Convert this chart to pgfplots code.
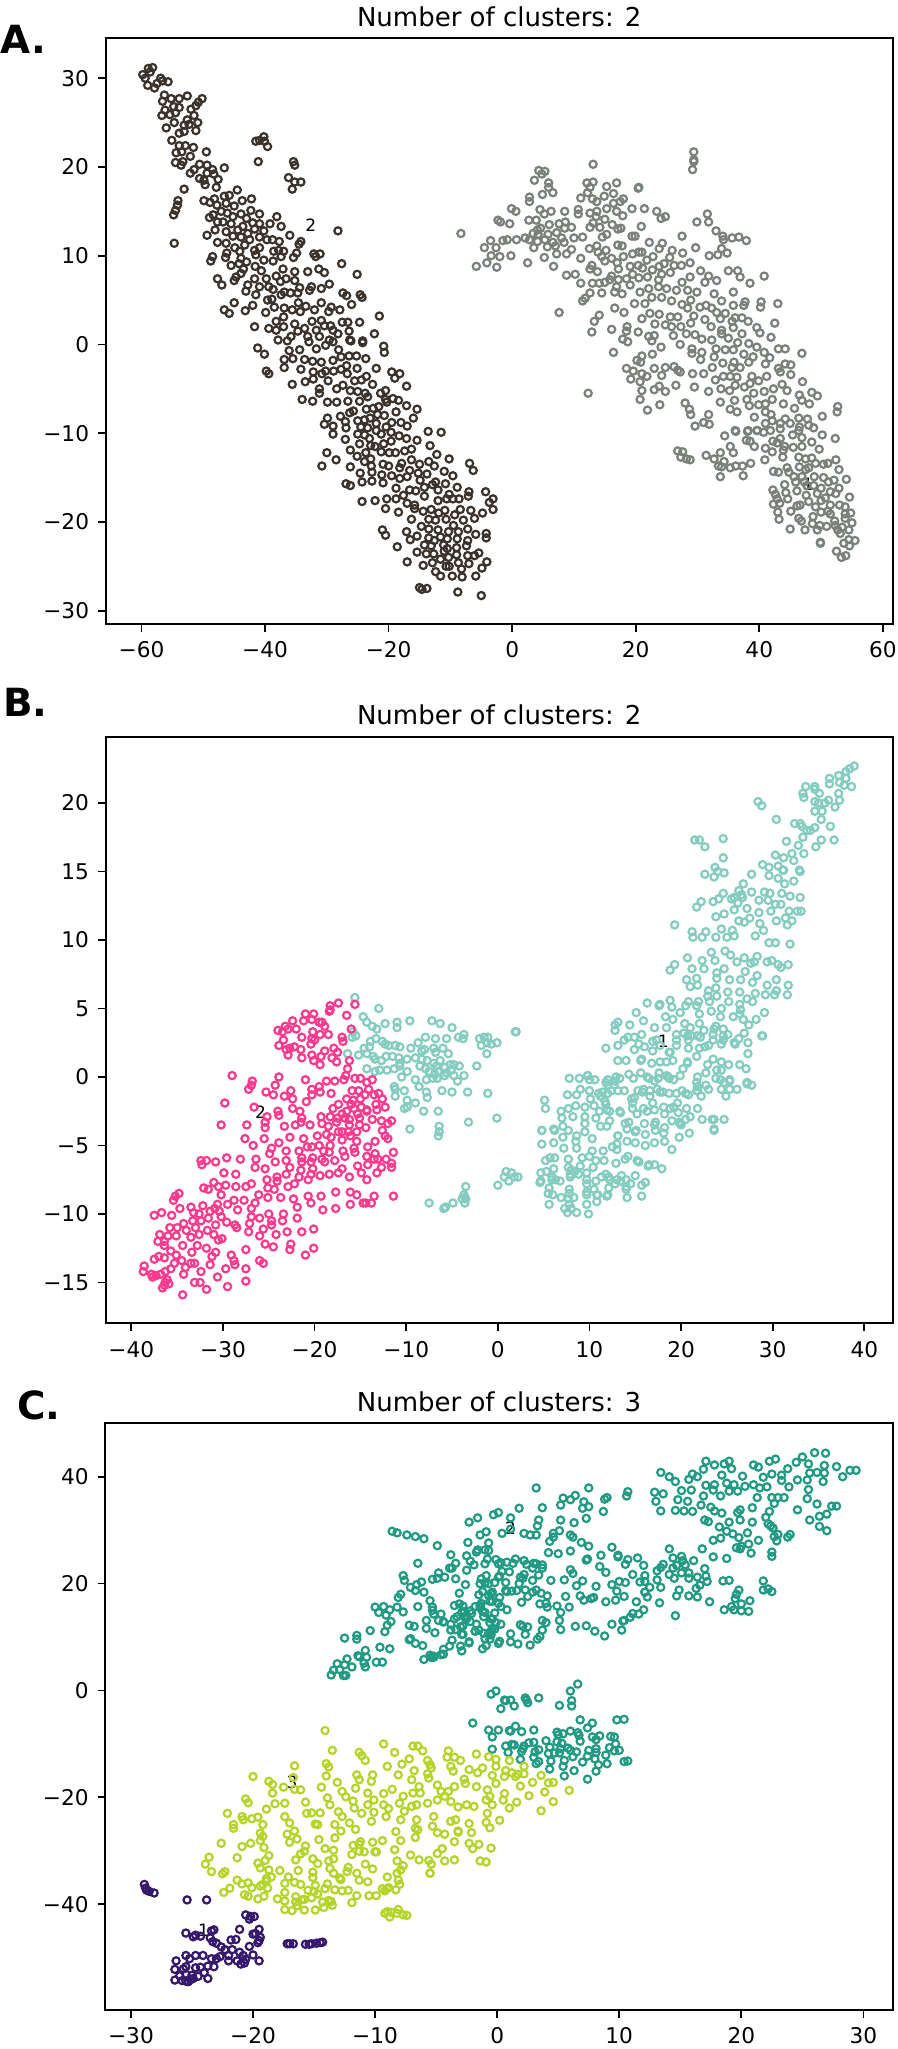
\documentclass[border=0pt]{standalone}
\usepackage{fontspec}
\setmainfont{DejaVu Sans}
\usepackage{pgfplots}
\pgfplotsset{compat=1.18}
\definecolor{aDark}{HTML}{3A322B}
\definecolor{aGrey}{HTML}{7A807A}
\definecolor{bPink}{HTML}{FB3A8E}
\definecolor{bTeal}{HTML}{84CCBF}
\definecolor{cTeal}{HTML}{219A83}
\definecolor{cLime}{HTML}{B4D42A}
\definecolor{cPurp}{HTML}{35186B}
\pgfplotsset{
  panel/.style={anchor=south west,scale only axis,width=393.5pt,
    tick align=outside,xtick pos=lower,ytick pos=left,
    major tick length=3.8pt,axis line style={line width=0.87pt},
    every tick/.append style={line width=0.87pt,black},
    tick label style={font=\fontsize{10.83}{13}\selectfont},
    xticklabel style={yshift=-1.5pt},yticklabel style={xshift=-1pt},
    title style={at={(0.5,1)},anchor=base,yshift=0pt,font=\fontsize{13}{16}\selectfont},
    clip=true},
  pts/.style={only marks,mark=o,mark size=1.8pt,mark options={line width=1.1pt,draw=#1,fill=none}},
}
\newcommand{\ann}[2]{\node[font=\fontsize{8.5}{10}\selectfont,inner sep=0pt] at (axis cs:#1) {#2};}
\begin{document}
\begin{tikzpicture}[x=1pt,y=1pt]
\path[use as bounding box] (0pt,0pt) rectangle (449pt,1024.5pt);
\node[anchor=base west,inner sep=0pt,font=\fontsize{19.4}{22}\bfseries\selectfont] at (0pt,997.5pt) {A.};
\node[anchor=base west,inner sep=0pt,font=\fontsize{19.4}{22}\bfseries\selectfont] at (1.5pt,666pt) {B.};
\node[anchor=base west,inner sep=0pt,font=\fontsize{19.4}{22}\bfseries\selectfont] at (8.5pt,314.5pt) {C.};
\begin{axis}[panel,at={(52.85pt,712.5pt)},height=292.85pt,xmin=-65.8,xmax=61.6,ymin=-31.5,ymax=34.5,
 xtick={-60,-40,-20,0,20,40,60},xticklabels={−60,−40,−20,0,20,40,60},
 ytick={-30,-20,-10,0,10,20,30},yticklabels={−30,−20,−10,0,10,20,30},
 title={Number of clusters: 2}]
\addplot[pts=aDark] coordinates {
(-59.8,30.4)(-58.9,31.1)(-58.2,31.2)(-58.6,30.7)(-59.4,30)(-59,29.2)(-57.9,28.9)(-57.5,29.4)(-56.9,30)(-55.7,29.6)(-56.6,29.7)
(-56.3,28.1)(-56.6,27.4)(-55.2,27.7)(-53.9,27.7)(-52.6,28)(-50.2,27.7)(-50.8,27.3)(-51.2,26.9)(-52,26.5)(-53.9,26.7)(-54.8,26.8)(-56.2,26.4)(-56.7,25.8)(-55.4,25.9)(-54.5,26.1)(-51.5,25.8)(-50.9,25)(-52.6,25.3)(-54.7,25)(-53.1,24.7)(-52.3,24.8)(-56,24.4)(-51.2,24.1)(-53.1,24)(-53.9,23.8)(-55.1,23)(-53.9,22.4)(-52.9,22.4)(-51.6,22.2)(-54.4,21.6)(-53.5,21.7)(-49.5,21.7)(-52.1,21.2)(-54.5,20.5)(-53.3,20.6)(-53.6,20.2)(-50.6,20.3)(-49.4,20.2)(-46.6,19.9)(-51.5,19.7)(-52.1,19.3)(-48.5,19.7)(-49.4,19.3)(-50.6,18.7)(-48.3,19.2)(-47.6,18.6)(-49.9,18.5)(-49.7,18)(-47.9,17.7)(-53.1,17.5)
(-40.2,23.4)(-41.5,22.9)(-40.9,23)(-40.1,22.9)(-39.6,22.3)(-41.1,20.6)(-35.4,20.6)(-35.2,20.2)(-36.2,18.8)(-35.2,18.3)(-34.2,18.3)(-35.6,17.5)
(-54.1,16.2)(-54.2,15.7)(-54.5,15.1)(-54.8,14.6)(-54.7,11.4)
(-44.5,17.4)(-42.2,16.4)(-43.7,16.2)(-45.8,16.8)(-46.6,16.7)(-48.2,16.4)(-49.9,16.2)(-48.9,16)(-47.8,15.7)(-46.3,15.9)(-45,15.6)(-47.1,15)(-42.3,15.1)(-40.9,14.7)(-43.9,14.7)(-48.4,14.6)(-49,14.3)(-46.1,14.8)(-45.2,14.4)(-43,14.2)(-38.1,14.4)(-47.7,13.8)(-46.8,13.8)(-45.5,13.6)(-42,13.7)(-40.9,13.6)(-39.2,13.6)(-37.4,13.3)(-43.6,13.3)(-41.7,13)(-48.1,12.9)(-46.3,12.7)(-44.4,12.9)(-42.8,12.5)(-40.2,12.8)(-28.2,12.8)(-49.4,12.3)(-45.2,12.2)(-43.9,12.1)(-40.9,12.1)(-36,12.3)(-47.7,11.5)(-46.3,11.4)(-42.5,11.8)(-39.7,11.8)(-38.8,11.8)(-37.7,11.6)(-34.2,11.6)(-34.5,11.3)(-43.3,11.2)(-44.9,10.9)(-40.9,10.9)(-41.7,10.6)(-38.6,10.5)(-37,10.5)(-37.8,10.6)(-41.5,10.1)(-44.1,10.5)(-46.2,10.3)(-32.1,10.2)(-31.1,10.2)(-34.9,10.3)(-48.5,9.9)(-46.4,9.8)(-37.4,9.9)(-35.4,9.8)(-31.8,9.9)(-48.8,9.4)(-43.9,9.7)(-40.2,9.5)(-38.7,9.4)(-43,9.3)(-27.6,9.1)(-44.2,9.1)(-45.5,8.9)(-41.6,8.8)(-37.1,8.5)(-43.5,8.5)(-31.3,8.5)(-40.6,8.3)(-35.2,8.2)(-33.1,8.2)(-30.4,8.1)(-43.9,8)(-25.1,7.9)(-38.2,7.7)(-47.7,7.4)(-41.7,7.4)(-39.8,7.4)(-44.7,7.6)(-36.6,7.4)(-45,7.2)(-35.2,7.2)(-37.5,7.1)(-47,6.7)(-42.8,6.7)(-40.9,6.5)(-39.4,6.5)(-29.6,6.8)(-34.4,6.4)(-32.5,6.5)(-43.1,6)(-38.7,6.2)(-30.9,6.3)(-36.9,5.9)(-35.9,5.8)(-34.7,5.8)(-32.8,6.1)(-27.4,5.8)(-41.5,5.6)(-37.4,5.6)(-26.8,5.5)(-24.6,5.6)(-24.3,5.3)(-39.6,5)(-38.9,5.1)(-30.9,4.7)(-45,4.7)(-34.6,4.7)(-26,4.5)(-42,4.4)(-38.5,4.2)(-33.4,4.3)(-29.3,4.2)(-46.6,3.9)(-43.2,3.8)(-36.9,4.1)(-35.6,3.9)(-34.3,3.7)(-32,3.9)(-29.7,3.7)(-27.9,3.9)(-45.8,3.5)(-39.9,3.6)(-21.5,3.2)(-37,3.1)(-30.9,2.7)(-32.4,2.6)(-27.5,2.5)(-26.6,2.5)(-24.7,2.5)(-38.2,2.6)(-35.2,2.3)(-29.4,2.1)(-30.4,2.1)(-37,2)(-33.6,1.8)(-41.7,2)(-39.4,1.8)(-38.2,1.6)(-31.7,1.6)(-34.7,1.5)(-29,1.6)(-26.4,1.5)(-22.3,1.2)(-33.1,.9)(-35.8,.9)(-31.2,.9)(-28.2,1.2)(-24.2,.4)(-37.9,.5)(-26.3,.5)(-29.6,.5)
(-36.4,.4)(-34.4,-.6)(-32.9,.3)(-31.7,-.5)(-36.1,-.7)(-30.2,-.1)(-29,.3)(-28.1,-.6)(-26.1,.4)(-24.2,.2)(-20.8,-.2)(-20.7,-.9)(-41.2,-.4)(-40.1,-1.1)(-36.9,-1.7)(-35.5,-1.6)(-33.6,-1.7)(-32.3,-1.9)(-30.9,-2)(-29,-1.8)(-27.7,-1.4)(-26.4,-1.3)(-25.2,-1.3)(-23.7,-1.6)(-36.9,-2.6)(-34.2,-2.8)(-39.8,-3)(-39.4,-3.3)(-32.2,-3.1)(-30.2,-3)(-28.9,-3)(-27.7,-2.8)(-26.8,-2.4)(-25.1,-2.7)(-22,-2.7)(-19.5,-3.1)(-18.2,-3.3)(-30.8,-3.3)(-26.7,-3.3)(-19,-3.8)(-23.6,-3.6)(-24.4,-4)(-25.5,-4.1)(-29.8,-4.1)(-32.2,-3.9)(-33.5,-4.2)(-35.6,-4.5)(-27.4,-4.6)(-22.6,-4.5)(-17.1,-4.7)(-28.4,-5)(-31.2,-5)(-31.2,-5.5)(-26.2,-5.2)(-25,-5.3)(-23.8,-5.5)(-20.5,-5.2)(-21.3,-5.5)(-23.4,-5.9)(-34,-6.2)(-32.3,-6.4)(-29.9,-6.5)(-28.4,-6.5)(-26.6,-6.4)(-24.7,-6.4)(-20.5,-6.2)(-19.3,-6.1)(-18.4,-6.3)(-20.3,-6.5)(-18.8,-7.6)(-17.1,-6.9)(-21.6,-7)(-22.5,-7.2)(-15.4,-7.3)(-23.6,-7.3)(-25.7,-7.5)(-26.3,-7.7)(-20.7,-8)(-21.8,-7.9)(-16,-8.3)(-27.8,-8.1)(-29.9,-8.3)(-23,-8.3)(-25,-8.6)(-27,-8.7)(-23.9,-8.5)(-18,-8.8)(-19.5,-8.8)(-22,-8.9)(-30.4,-9)(-29,-9.2)(-26.9,-9.4)(-24.5,-9.3)(-23.4,-9.4)(-20.4,-9.3)(-17,-9.2)(-22,-9.7)(-19.6,-9.9)(-29,-10.1)(-25,-10.1)(-23.9,-10.2)(-21.2,-10.1)(-13.6,-9.8)(-11.5,-9.9)(-23.1,-10.6)(-18.3,-10.3)(-17.1,-10.6)(-15.4,-10.8)(-27,-10.7)(-19.6,-10.9)(-24.7,-11.2)(-22.9,-11.4)(-20.8,-11.2)(-22.2,-11.5)(-13.3,-11.4)(-16.3,-11.8)(-26.2,-11.9)(-23.7,-12.2)(-21.2,-12.1)(-19.9,-12.2)(-18.9,-12.2)(-17.4,-12)(-30,-12.2)(-12.2,-12.4)(-25.1,-12.6)(-22.9,-12.9)(-10.2,-12.9)(-28.5,-13)(-16.3,-13)(-23.9,-13.2)(-13.5,-13.2)(-20.9,-13.5)(-15,-13.5)(-17.9,-13.4)(-6.9,-13.4)(-20,-13.7)(-12.6,-13.7)(-30.8,-13.7)(-26.2,-13.8)(-22.8,-13.7)(-18.2,-13.9)(-6.3,-14.2)(-16.6,-14.2)(-11,-14.3)(-22.7,-14.4)(-24.6,-14.5)(-13.8,-14.6)(-21.1,-14.7)(-19.5,-14.8)(-15.2,-14.5)(-9.6,-14.8)(-17,-14.9)(-18.2,-15.1)(-14.9,-15.3)(-24.3,-15.5)(-22.7,-15.4)(-20.9,-15.6)(-26.9,-15.7)(-26.2,-15.9)(-12.4,-15.5)(-10.8,-15.7)(-12.9,-15.8)(-18.8,-16.2)(-14.2,-16.1)(-8.9,-16.1)(-16.6,-16.4)(-12,-16.4)(-15.6,-16.5)(-4.3,-16.6)(-7,-16.6)(-10.2,-16.9)(-17.6,-17)(-14.2,-17.1)(-7.1,-17.1)(-18.8,-17.4)(-20.3,-17.4)(-9.6,-17.4)(-8.6,-17.4)(-3.1,-17.4)(-10.6,-17.4)(-12,-17.6)(-22.2,-17.6)(-24.3,-17.7)(-3.7,-17.8)(-17,-17.9)(-15.8,-18.1)(-20.5,-18.5)(-15.8,-18.5)(-3.1,-18.6)(-6.7,-18.7)(-13.1,-18.6)(-14.4,-18.8)(-10.9,-18.7)(-8.4,-18.6)(-18.4,-18.9)(-11.9,-19)(-4.8,-19)(-9.3,-19.2)(-6.1,-19.6)(-13.5,-19.7)(-12.4,-19.8)(-10.7,-19.7)(-16.3,-19.7)(-7.9,-19.8)(-9.5,-20.4)(-14.7,-20.5)(-12,-20.9)(-13.5,-20.8)(-7.2,-20.8)(-21,-20.9)(-17.1,-21.1)(-10.3,-21.1)(-8.7,-21.1)(-20.5,-21.5)(-15.4,-21.6)(-5.9,-21.4)(-4.2,-21.3)(-4.2,-21.8)(-11.6,-21.7)(-13.5,-21.8)(-8.9,-21.9)(-16.5,-22)(-7.2,-22.1)(-10.5,-21.9)(-12.6,-22.1)(-14.2,-22.6)(-7.4,-22.7)(-11.1,-22.6)(-13.1,-22.7)(-9,-22.9)(-18.6,-22.8)(-10.5,-23)(-11,-23.3)(-15.4,-23.4)(-12.7,-23.6)(-13.9,-23.6)(-9,-23.7)(-5.4,-23.5)(-7.2,-23.8)(-6.1,-23.8)(-10.3,-24)(-11.6,-24.2)(-4.1,-24.5)(-8.7,-24.6)(-7,-24.7)(-17,-24.5)(-12.9,-24.6)(-14.4,-24.9)(-10.7,-25)(-10.2,-25)(-8.2,-25.3)(-4.9,-25.2)(-12.4,-25.6)(-11.6,-26.1)(-9.7,-26.1)(-8.1,-26.2)(-5.9,-26.1)(-15,-27.4)(-14.6,-27.6)(-13.8,-27.5)(-8.8,-27.9)(-5,-28.3)
};
\addplot[pts=aGrey] coordinates {
(-8.3,12.5)(-3.5,11.7)(-4.5,10.9)(-2.6,10.9)(-3.4,10)(-2,9.9)(-4.1,9.2)(-5.8,8.8)(-2.5,8.7)(-.2,10)(2.5,9.2)(5.2,9.8)(6.7,8.8)(3.5,10.9)(5.7,11)(7.2,10.2)(8.8,10.2)(9.6,10.7)(8.4,11.5)(7,11.1)(-1.5,11.7)(-.8,11.8)(.7,11.8)(2.1,12)(2.8,11.8)(4.1,11.6)(5.3,11.8)(6.6,11.5)(8,12)(10,12)(11.4,12.1)(9.6,13.2)(8.5,13.1)(8.6,13.8)(7.6,13.6)(6,13.5)(7.2,12.6)(5.8,12.4)(4.2,12.4)(3.4,12.5)(4.1,12.9)(4.6,13.1)(2.7,14)(3.9,14)(-2.3,14)(-1.9,13.8)(-.4,13.6)(-.1,15.3)(.6,15)(4.5,15.2)(5.2,14.7)(6.3,15)(8.5,15)(10.7,15.2)(10.7,14.7)(12.6,14.8)(13.7,15)(13.6,14.4)(15,14.1)(13.1,13.7)(12.6,13.2)(14.2,13.2)(16.2,13.5)(17.1,13)(17.6,13.1)(20.9,13.3)(19.4,12.2)(19.9,12.2)(15.3,12.4)(14.6,12.1)(12.5,10.8)(13.7,11.1)(15.2,10.6)(13.9,10.4)(17.1,11.2)(17.8,11.1)(14.5,9.9)(15,9.4)(11.1,9.7)(16.1,9.7)(18,9.9)(19.5,10.2)(20.5,10.4)(21,10.4)(22.2,11.5)(24.3,11.4)(23.8,10.8)(25.9,10.6)(25.5,9.8)(22.8,9.9)(21.8,9.5)(27.5,12.2)(27.6,10.3)(29.7,10.9)(28.8,9.2)(27.4,8.9)(26.2,8.9)(24.6,9.1)(23.8,8.8)(22.7,8.4)(21.1,8.6)(20.4,8.9)(19.1,8.8)(17.2,8.5)(17,9.2)(12.9,8.9)(12.6,8.5)(13.8,8.2)(8.8,7.8)(10.2,7.9)(11.1,6.9)(13,6.9)(14.1,6.9)(15,7)(16.1,7.7)(17.2,7.3)(15.8,7.3)(18.5,7.4)(19.5,7.9)(20.5,7.5)(21.9,7.6)(23.7,7.3)(24.2,7.9)(25.6,8.1)(27.5,7)(28.8,7.6)(30.5,8.3)(31.8,7.7)(31.2,7)(33.1,7.2)(35,8.3)(36.5,8.3)(36.9,7.6)(38.5,6.9)(40.8,7.7)(19.1,6.7)(16.9,6.5)(20.7,5.9)(22.1,6.3)(23.7,6.5)(25,6.3)(26.6,6.1)(28.4,6.1)(29.9,5.9)(32.7,5.7)(35.8,5.9)(12.6,5.8)(11.8,5.2)(11.4,4.9)(14.5,5.8)(16.6,5.9)(17.8,5.7)(16.6,4.1)(18.1,3.6)(19.8,4.6)(21.5,4.6)(22.6,5.3)(24.2,5.3)(25.8,4.9)(27.5,4.5)(28.9,5)(33.9,4.9)(37.7,4.8)(40.3,4.8)(43,4.6)(35.8,4.4)(30.4,4.2)(31.4,4.4)(32.3,4.1)(40.2,4.2)(37.5,4.4)(7.6,3.6)(14.1,3.3)(13.3,2.6)(12.9,1.4)(16.1,1.7)(18.6,2)(18.5,1.5)(20.4,1.4)(22.3,3.5)(23.8,3.4)(25.6,3.1)(26.8,3.1)(28.4,4.1)(29.4,3.2)(33.1,3.6)(34.5,3.5)(31.2,2.8)(33.7,2.9)(36.1,3)(37.2,3)(38.2,2.6)(42.5,2.4)(21,2.9)(23.1,2.3)(24.8,2.2)(25.8,2)(27.3,2)(28.9,2.4)(32.2,2)(35.6,2.6)(33.9,1.6)(35.8,1.9)(39.6,1.9)(40.1,1.3)(37.2,1.2)(22.1,.9)(23,1)(22.6,.4)(17.9,.6)(18.7,.3)(26.1,1)(28.2,1.2)(29.6,1.1)(30.7,.6)(32.3,.5)(33.9,1.2)(35,.7)(36.5,.2)(38.3,.1)(41.9,.8)(27.2,0)(24.1,-.3)(29.1,-.5)(30.7,-.9)(33,-.5)(34.5,-.6)(35.8,-.6)(37.5,-1.1)(39.6,-.3)(40.8,-.9)(43.1,-.5)(44.2,-.5)(46.9,-1)(16.4,-.9)(21,-1.3)(22.7,-1.1)(20.2,-1.8)(29.1,-1)(32.7,-1.4)(39,-1.4)(41.7,-1.5)(20.8,-2)(30.5,-1.7)(34.1,-2.1)(35.9,-2)(41,-2.2)(44.2,-2.2)(45.1,-2.3)(18.5,-2.7)(19.6,-3)(23,-2.7)(24.8,-2.6)(26.2,-2.5)(26.8,-2.9)(27.2,-3.1)(32.4,-2.6)(35.6,-2.6)(36.9,-2.6)(43.1,-2.7)(38.3,-2)(21,-3.3)(21.8,-3.6)(24.2,-3.5)(29.2,-3.3)(31,-3.3)(34.2,-3.6)(35.3,-3.6)(36.4,-3.7)(38.8,-3.6)(39.9,-4.1)(41.2,-3.6)(43.4,-3.1)(45.1,-3.4)(19.2,-3.9)(20.7,-4.2)(32.9,-4)(36.1,-4.6)(47,-4.2)(38.5,-4.4)(12.3,-5.5)(21,-5.2)(23,-5.1)(23.8,-4.7)(24.8,-5.3)(26.5,-4.6)(29.5,-4.8)(31.8,-5.3)(33.8,-5)(35.2,-5.2)(37.6,-4.8)(39.1,-5.5)(40.8,-5.3)(42.3,-5)(43.7,-4.5)(44.5,-5.2)(46.5,-5.7)(48.5,-5.4)(49.4,-5.8)(20.7,-6.2)(23.9,-6.8)(28,-6.6)(33.7,-6.5)(36,-6.3)(38,-6.2)(42.1,-6.2)(46.9,-6.3)(48.1,-6.7)(21.9,-7.4)(28.7,-7.3)(28.9,-7.9)(35.3,-7.3)(36.4,-7.6)(38.4,-6.9)(39.9,-6.8)(41,-6.7)(43.9,-6.7)(45.7,-7.2)(52.7,-7)(52.6,-7.6)(31.8,-7.9)(39.2,-8.2)(41,-7.6)(41.9,-7.9)(50.2,-8.1)(29.6,-9.2)(31,-8.8)(31.9,-9)(36.1,-9.7)(38.2,-9.7)(39.6,-9.7)(41,-8.9)(42.1,-8.6)(43.4,-8.9)(44.2,-8.4)(45,-8.9)(46.4,-8.3)(47.8,-8.4)(46.5,-9.3)(48,-9.1)(48.8,-9.4)
(29.4,21.7)(29.4,20.6)(29.4,20.8)(29.2,19.7)(13.1,20.3)(4.3,19.6)(5.3,19.5)(4.8,19.2)(3.6,18.5)(5.9,18.2)(5.9,17.7)(6.6,17.1)(4.9,16.9)(2.8,16.6)(2.8,16.1)(12.1,18.2)(13.1,18.3)(15.3,17.8)(16.9,18.2)(20.4,17.6)(20.5,17.7)(12.6,17.7)(12.2,17.1)(11.1,16.5)(13,16.4)(13.7,16.1)(14.9,16.7)(16.4,17)(18,16.4)(17.5,16.1)(16.4,15.9)(15.3,15.3)(16.9,15)(17.9,14.5)(19.4,15.3)(21.4,15.3)(23.4,15)(24.8,14.4)(24.1,14.2)(31.6,14.7)(31.8,13.8)(29.9,13.8)(33,12.8)(34.1,12.2)(34.2,11.8)(35.6,12)(36.7,12.1)(37.9,11.7)(33.9,10.8)(33.3,10.1)(31.9,10)(34.8,10.3)
(34.4,-10.3)(36.2,-9.8)(38.1,-9.8)(39.7,-9.7)(40.7,-9.9)(41.8,-9.7)(43.4,-9.5)(45.4,-10.2)(46.4,-9.7)(46.9,-10.5)(48.5,-11)(50.2,-10.2)(52.3,-10.6)(37.9,-10.8)(38.5,-10.9)(39.2,-11.5)(42.2,-10.9)(42.9,-11.1)(43.4,-10.6)(44.1,-11.5)(45.5,-11.6)(46.9,-11.5)(49.7,-11.8)(35.3,-11.5)(35.8,-12.2)(41,-11.7)(42.1,-12.1)(43.8,-12.7)(43.9,-11.9)(26.8,-12)(27.6,-12.1)(27.3,-12.7)(28.2,-12.9)(28.8,-13)(31.4,-12.5)(32.7,-12.9)(33.7,-12.2)(34.3,-13.2)(33.4,-13.7)(33.9,-13.8)(35.3,-13.9)(36.2,-13.7)(37.3,-13.7)(38.6,-13.4)(40.9,-13)(46.4,-12.7)(47.5,-12.9)(48.5,-12.8)(49.1,-13.4)(50.4,-13.5)(51.1,-13.4)(52.4,-13)(52.9,-14.1)(42.3,-14.3)(43.1,-14.4)(44.5,-13.9)(44.8,-14.4)(45.6,-14.9)(46.5,-13.8)(47.5,-14.1)(48,-13.9)(33.7,-14.9)(37.4,-14.8)(46.9,-14.9)(48.9,-14.9)(50.4,-15)(52.1,-15.3)(51.2,-15.5)(54.1,-15.2)(44.1,-15.8)(45.9,-15.5)(47.3,-15.5)(48.8,-15.9)(42.2,-16.4)(44.3,-16.7)(46.1,-16.5)(47.6,-17)(50,-16.2)(51.5,-16.6)(52.4,-16.8)(52.9,-16.2)(42.6,-16.9)(42.9,-17.4)(44.6,-17.4)(49.4,-16.8)(50.7,-17.3)(54.6,-17.2)(42.3,-18)(43.3,-17.9)(48,-17.7)(49.1,-18.3)(50,-17.6)(51.5,-18.1)(53,-18.1)(53.9,-18.3)(46.1,-18.2)(46.6,-18.1)(43,-18.9)(45.1,-18.8)(50,-18.9)(51.1,-18.8)(51.5,-19.1)(53.9,-19.1)(54.8,-19)(53.9,-19.6)(43.2,-19.7)(46.4,-19.6)(46.8,-19.9)(48.7,-19.4)(52.2,-19.9)(52.3,-20.4)(55,-20.1)(45,-20.8)(47.4,-20.9)(49.4,-20.9)(48.6,-20.2)(49.8,-20.4)(50.9,-20.5)(52.7,-20.9)(53.4,-20.6)(54.5,-20.9)(53.1,-21.3)(49.9,-22.3)(49.9,-22.4)(54.5,-22)(55.5,-22.1)(53.7,-22.4)(54.6,-22.7)(52.5,-23.3)(54,-23.8)(53.3,-24)(47.7,-15.9)
};
\ann{-32.6,13.4}{2}
\ann{47.9,-15.8}{1}
\end{axis}
\begin{axis}[panel,at={(52.85pt,362.85pt)},height=293.3pt,xmin=-42.8,xmax=43.1,ymin=-17.98,ymax=24.84,
 xtick={-40,-30,-20,-10,0,10,20,30,40},xticklabels={−40,−30,−20,−10,0,10,20,30,40},
 ytick={-15,-10,-5,0,5,10,15,20,25},yticklabels={−15,−10,−5,0,5,10,15,20,25},
 title={Number of clusters: 2}]
\addplot[pts=bTeal] coordinates {
(-15.6,5.8)(-13,5)(-14.7,4.4)(-14.3,4)(-13.7,3.7)(-13.2,3.5)(-12.3,3.9)(-11,4)(-11,3.6)(-9.6,4.1)(-7.2,4.1)(-6.3,3.9)(-5,3.6)(-4.3,2.9)(-5.6,2.8)(-7.9,2.9)(-8.7,2.5)(-6.8,2.8)(-3.8,2.8)(-3.7,3.1)(-2,2.8)(-1.5,2.9)(-1.2,2.5)(-1.8,2.3)(-1.1,2.9)(-0.7,2.4)(-0.1,2.5)(-1.2,1.7)(2,3.3)(1.9,3.3)
(-15.8,3.3)(-15.5,3)(-15.9,2.9)(-16.4,1.7)(-15.2,1.6)(-14.6,2.1)(-14,2.2)(-13.3,2.8)(-13.9,2.6)(-12.6,2.6)(-12.3,2.4)(-11.9,2.3)(-11.2,2.3)(-10.7,2.2)(-9.5,2.1)(-8.3,1.9)(-8,2)(-7,2.1)(-6.8,1.8)(-6,2.1)(-5.4,1.7)(-14.3,1.7)(-13.6,1.5)(-13.4,1.3)(-12.7,1.2)(-12.2,1.5)(-11.5,1.5)(-10.8,1.4)(-10.7,1)(-9.9,1.3)(-9,1.4)(-8.3,1.3)(-7.7,1.2)(-7,1)(-6.3,1.2)(-5.2,0.9)(-4.8,0.9)(-4.2,0.8)(-2.3,0.8)(-14.3,0.6)(-13.4,0.4)(-12.9,0.5)(-12.1,0.5)(-11.3,0.6)(-10.7,0.8)(-9.9,0.4)(-8.5,0.8)(-7.9,0.6)(-7.5,0.4)(-6.7,0.8)(-6.5,0.4)(-5.8,0.7)(-5.6,0.3)(-5.1,0.5)(-3.7,0.1)(-10.5,0)(-9,-0.2)(-7.8,-0.2)(-7.1,-0.1)(-6.6,-0.1)(-6.9,0.2)(-5.8,0.1)(-4.8,0.1)(-4.4,-0.3)
(-11.3,-0.7)(-11.2,-0.9)(-10.2,-1)(-8.6,-0.7)(-7.8,-1.1)(-6.1,-1)(-5,-1.1)(-3.3,-1.1)(-1.1,-1.2)(-11.2,-1.4)(-9.9,-1.7)(-7.7,-1.5)(-3.2,-3.3)(-9.9,-2.2)(-9,-1.9)(-10.2,-2.3)(-8.1,-2.5)(-6.5,-2.5)
(-9.6,-3.8)(-6.4,-3.6)(-6.4,-4)(-6.5,-4.3)
(-7.5,-9.2)(-5.7,-9.5)(-5.9,-9.6)(-4.9,-9.2)(-3.6,-8.8)(-3.6,-9.2)(-3.5,-8.9)(-3.7,-8.6)(-3.9,-8.9)(-3.5,-8)(0.7,-7.3)(0.9,-6.9)(1.2,-7.6)(1.5,-7)(0,-7.9)(1.8,-7.3)(2.2,-7.3)(-0.1,-3)
(38.9,22.7)(38.4,22.5)(38,22.3)(37.2,22)(36.2,21.8)(38,21.8)(37.3,21.5)(36.2,21.4)(37.8,21.3)(38.6,21.2)(33.6,21.2)(34.6,21.2)(34.6,21)(35.1,20.7)(33.3,20.7)(33.4,20.4)(37.2,20.7)(37.3,20.2)(36.1,20.2)(35.7,20)(34.6,20.1)(35,20)(36.8,19.7)(35.4,19.4)(34.6,19.4)(35.3,18.8)(36.3,18.3)(28.4,20.1)(28.8,19.8)(30.4,18.8)(32.4,18.5)(33,18.5)(33.2,18.3)(33.7,18)(34.1,18)(34.6,18.2)(33.3,17.5)(35.3,17.3)(36.7,17.3)(31.5,17.2)(32.8,16.9)(34.7,16.8)(32.1,16.3)(33.4,16.3)(30.3,16.2)(31.2,16)(32.3,15.8)(28.9,15.5)(29.6,15.3)(30.6,15.4)(31.1,15.1)(31.2,15.1)(33,15)(32.9,15.1)(27.7,14.8)(29.6,14.7)(30.6,14.5)(31.3,14.1)(32.3,14.3)(26.8,14.1)(26.3,13.6)(27.7,13.5)(29.1,13.5)(29.7,13.4)(31,13.4)(31.9,13.2)(33,13.1)(30.9,12.6)(32.7,12.1)(33.1,12.1)
(21.5,17.3)(22,17.3)(22.6,16.8)(24.6,17.4)(24.6,16)(23.7,15.3)(24,15)(24.7,14.9)(22.6,14.8)(23.6,14.6)(26.6,13.3)(24.6,13.4)(25.8,13.1)(26.7,13.1)(22.2,12.8)(21.7,12.4)(23.5,12.8)(24.1,13)(25.5,13)(26.2,12.7)(28.5,12.9)(29.5,12.9)(30.3,12.6)(31.8,12.1)(31.4,11.6)(29.8,12.1)(28.5,12)(27.2,12.3)(25.8,12.2)(24.7,11.9)(23.8,11.7)(27.5,11.6)(26.9,11.3)(26.3,11.4)(28.6,11.2)(32.1,11.4)(31.6,11.1)(30.4,11.4)(29,10.7)(25.6,10.7)(24.4,10.8)(22.7,10.6)(21.2,10.6)(19.3,11.1)(21.3,10.2)(22.3,10.2)(23.8,10.2)(25,10.2)(25.8,10.3)(28.1,10.3)(30.3,9.8)(29.6,9.8)(31.9,9.7)(23.3,9.1)(24.8,9.2)(25.4,8.9)(26.9,8.7)(28.3,8.8)(29.9,8.5)(31.7,8.2)(30.9,8)(19.3,8.2)(20.7,8.7)(22.3,8.5)(23.7,8.5)(26.1,8.4)(27.6,8.3)(28,8.4)(29.4,8.4)(30.6,8.2)(18.8,7.8)(21.2,7.9)(22.5,7.9)(23.9,7.6)(24.7,7.9)(27,7.7)(28.3,7.4)(30.4,7.1)
(21.7,7.2)(20.6,7.1)(23.9,7.2)(25.3,7.1)(26.5,7.1)(27.8,6.9)(29.4,6.7)(31.7,6.7)(30.4,6.3)(31.6,6)(21,6.6)(21.8,6.7)(23,6.3)(23.8,6.5)(25.1,6.2)(26.4,6.2)(28.1,6.1)(29.2,6)(30.2,6)(27.2,5.7)(27.8,5.5)(20.8,5.5)(21.9,5.5)(22.9,5.9)(23.9,5.9)(25.2,5.5)(26.4,5.3)(17.7,5.3)(19,5.1)(16.3,5.4)(17.6,5.2)(18.8,5.6)(20.5,5.2)(21.7,5.2)(23.1,5.5)(24.4,5)(26.4,4.6)(26.5,4.9)(29.1,4.7)(15.1,4.7)(19.9,4.7)(22,4.6)(23.3,4.8)(24.3,4.4)(25.7,4.4)(26.8,4.2)(28.2,4.2)(18.3,4.4)(15.9,4.1)(19.1,4.2)(20.4,3.9)(21,3.6)(22,3.9)(23.8,3.7)(24.6,3.5)(27.4,3.8)(28.8,3)(12.8,3.8)(12.8,3.4)(17.1,3.6)(18.4,3.6)(13.1,4)(14.4,3.8)(20.3,3.2)(21.1,3)(22.5,3.4)(23.6,3.5)(25.1,3.1)(26.9,3.2)(28.9,3)(14.9,2.9)(15.7,3.1)(17.3,2.7)(19.5,3.1)(20.7,3)(21.8,3)(23.5,3.1)(24.6,3)(26.3,2.8)(13.8,2.7)(13.1,2.3)(14.2,2.9)(15.4,2.4)(19.5,2.7)(20.8,2.7)(22.1,2.9)(23.5,2.7)(24.6,2.7)(25.9,2.4)(27.3,2.5)
(11.8,2.1)(14.9,2)(16,2.2)(16.9,2.6)(17.7,2.3)(18.8,1.8)(19.5,2.3)(20.8,2.1)(22,2.1)(22.6,2.2)(23,2.3)(24.4,2.4)(25.8,2.5)(27.3,1.7)(16.9,1.9)(18.7,1.8)(15.7,1.3)(17.7,1.1)(19.1,1.2)(20.7,1.1)(21.7,1.5)(23.5,1.3)(24.4,1.1)(25.2,0.9)(26.4,0.9)(27.1,0.6)(13.1,1.2)(14,1.2)(15.6,1.2)(16.8,1)(18.4,1.1)(20.2,0.6)(20.7,1)(22.9,0.9)(23.9,0.5)(22.7,0.3)(24.4,0.5)(15.6,0.3)(17.6,0.3)(19.9,0.1)(18.7,-0.1)(21.7,-0.4)(22.7,-0.6)(24.3,-0.2)(25.3,-0.3)(13.3,-0.1)(14.3,0.2)(12.8,-0.3)(16.5,-0.1)(17.5,-0.1)(18.6,0)(21.8,0)(23.8,-0.1)(24.7,-0.4)(25.3,-0.2)(27.2,-0.4)(27.7,-0.6)(9.8,0.1)(11.8,-0.4)(12.9,0)(14.8,-0.1)(16.3,0)(17.1,-0.3)(18.4,0.1)(19.2,-0.2)(9.8,0.1)(12,-0.2)(12.4,-1)(15.3,-1)(15.9,-0.9)(17.4,-0.9)(18.7,-1.2)(20.1,-1)(21.7,-1)(23,-0.9)(24.4,-0.9)(24.9,-1.4)
(7.8,-0.1)(8.9,-0.1)(10,-0.2)(10.6,-0.2)(11.4,-1.1)(12,-0.6)(12.7,-0.6)(13.1,-1)(15.8,-1.1)(16.6,-1)(17.7,-1.1)(18,-1.1)(19.5,-1.2)(20.5,-1.2)(21.8,-0.7)(25.3,-0.9)(26.1,-0.9)(27.2,-0.5)(7.6,-1.3)(8.6,-1.3)(10,-1)(11,-1.2)(12,-1.2)(13.8,-1)(14.9,-1.5)(19.6,-1.9)(20.6,-2.3)(21.8,-2.3)(23.4,-3.1)(23.6,-3.1)(24.7,-3.1)(22.2,-1.4)(21.8,-1)(20.8,-1.3)
(11.7,-1.8)(16.6,-1.4)(14.6,-1.6)(14.7,-2.3)(15.9,-2.3)(13.4,-2.6)(11.9,-2.4)(17.1,-2.4)(18.1,-2.2)(19.2,-2.2)(9,-0.9)(10.1,-1.6)(11.2,-1.4)(5.1,-1.7)(5.2,-2.3)(6.9,-2.5)(7.7,-2.3)(8.5,-2.1)(9.5,-2.2)(10.5,-2.1)(11.8,-2)(14.7,-1.9)(16.9,-1.9)(18.8,-2.3)(19.7,-2.6)(20.5,-3.1)(21,-2.9)(22.3,-3.1)(23.6,-3.8)(23.6,-3.9)
(7,-3)(8.2,-2.9)(9.5,-2.9)(11.1,-2.5)(12.2,-2.5)(13.3,-2.5)(14.3,-3.3)(15.2,-2.7)(16.3,-2.5)(17.2,-3.3)(18.2,-2.7)(19,-3.2)(20,-3.5)(4.8,-3.9)(6.2,-3.9)(7.7,-3.9)(9.5,-3.4)(10.7,-3)(11.9,-3.6)(13.1,-4.3)(13.9,-3.4)(15.1,-3.9)(16,-3.4)(17.1,-3.5)(18.2,-3.7)(19.8,-3.3)
(4.8,-3.9)(6.1,-3.8)(7.1,-3.6)(8.5,-4.7)(9.5,-4)(11.2,-3.6)(12.2,-3.2)(13.1,-4.3)(14.1,-3.8)(15,-4)(16.1,-4.2)(17.2,-3.9)(18.1,-4.1)(19.9,-3.4)(4.8,-4.9)(6.1,-4.8)(7.1,-4.4)(8.6,-4.3)(10.3,-4.5)(11.5,-5.4)(12.5,-5.1)(13,-4.9)(14.1,-4.7)(15,-4.8)(16.1,-5)(17.1,-4.8)(18.2,-4.7)(19.8,-4.4)(20.9,-4.1)(19,-5.3)
(5.2,-6.1)(6.2,-5.9)(7.2,-5.2)(8.6,-5.2)(10.3,-5.4)(11.6,-6.1)(13,-5.3)(13.9,-6)(15.2,-6.1)(16.4,-6.5)(17.1,-6.4)(17.9,-6.7)(5.7,-5.9)(7.7,-6)(9.2,-5.9)(10,-5.8)(10.7,-6.1)(12.9,-6.3)(14.2,-5.8)(15.4,-6.2)(4.7,-7)(5.3,-6.9)(6.1,-6.7)(7.7,-6.6)(9,-6.5)(8,-6.8)(10.4,-6.6)(11.3,-7.3)(12.1,-7.3)(13.4,-7.6)(13.5,-7.2)(4.6,-7.7)(5.9,-7.5)(6.8,-7.6)(7.9,-7.1)(8.8,-7.1)(9.7,-7.5)(10.7,-7.6)(12.8,-7.8)(14.5,-7.8)(16.1,-7.7)(14,-7.5)(13,-7.5)
(4.7,-7.6)(5.9,-7.3)(6.3,-7.5)(7.9,-7.3)(8.4,-6.9)(9.7,-7)(11.8,-7.1)(12.2,-7.5)(6,-8.6)(7.8,-8.2)(9.7,-7.8)(10.5,-8.2)(5.5,-8.5)(7.8,-8.5)(9.7,-8.6)(10.8,-8.6)(14,-8)(15.7,-7.9)(12.1,-8.1)(11.9,-8.7)(16.5,-6.4)(15,-7.2)
(5.6,-8.1)(6.9,-8.8)(7.7,-8.9)(8.3,-8.8)(9.7,-8.4)(10.9,-8.6)(12,-8.6)(14.1,-8.8)(15.7,-8.7)(5.6,-9.3)(7.8,-9.3)(9.7,-9.3)(10.8,-9.1)(14,-8.2)(7.3,-9.6)(7.6,-9.9)(8,-9.6)(8.6,-9.9)(9.9,-10.0)
};
\addplot[pts=bPink] coordinates {
(-15.6,5.3)(-17.4,5.4)(-18.3,5.2)(-18.3,4.9)(-18.4,4.8)(-16.5,4.5)(-21,4.6)(-20.1,4.6)(-20.3,4.2)(-22.4,4.1)(-21.2,4.1)(-19.5,4)(-19.2,4)(-18.9,3.7)(-16,3.5)(-23.2,3.7)(-24,3.4)(-23.5,3.3)(-22.9,3.5)(-22,3.5)(-20.2,3.3)(-19.4,3.1)(-18.5,3.1)(-20.3,2.8)(-20,2.7)(-21.4,2.9)(-23.4,2.7)(-23.9,2.3)(-23.1,2)(-22.7,2.1)(-22.2,2.2)(-22.9,1.6)(-20.3,1.6)(-21.5,2)(-20.4,2.4)(-16.9,2.6)(-17,2.9)(-17.9,2.1)(-19.3,1.5)(-18.9,1.9)(-17.5,1.8)(-18.1,1.4)(-21.4,1.4)(-20.1,1.2)(-19.4,0.9)(-16.2,1.2)(-17.6,1.1)(-16.4,0.6)
(-29,0.1)(-26.8,-0.3)(-26.9,-0.6)(-27.2,-0.9)(-23.9,0)(-24.3,-0.6)(-24.5,-1.3)(-25.3,-1.1)(-22.6,-1)(-23.3,-1.4)(-22.4,-1.6)(-20.3,-1.3)(-20.9,-1.8)(-21,-0.2)(-19.5,-0.7)(-18.7,-0.3)(-16.8,-0.2)(-16.6,0.1)(-17.8,-0.3)(-18.2,-1.2)(-19.4,-1.1)(-20.3,-0.9)(-15.6,-0.1)(-15,-0.1)(-14.3,-0.4)(-13.7,-0.2)(-14.1,-0.9)(-15.2,-1)(-15.9,-1)(-16.5,-1.6)(-17.4,-2)(-18,-2.3)(-16.5,-2.5)(-16,-2)(-15.8,-1.7)(-15,-1.6)(-14.5,-1.3)(-13.5,-1.3)(-13,-1.2)(-12.6,-1.6)(-13.3,-2)(-14.3,-2.4)(-14.9,-2.2)(-15.7,-2.3)(-16.7,-3)(-17,-2.7)
(-29.8,-1.9)(-26.6,-2.2)(-24,-2.5)(-23.9,-2.8)(-25.2,-2.9)(-22.4,-2.3)(-21.6,-2.5)(-21.4,-3)(-19.3,-2.9)(-18.3,-2.9)(-17.5,-3)(-16.2,-3.1)(-15.3,-2.7)(-14.3,-2.5)(-13.2,-2.4)(-12.3,-2.2)(-12.7,-3.2)(-13.7,-3.1)(-15.1,-3)(-16.2,-3.5)(-17.6,-3.3)(-18.5,-3.6)(-19.2,-3.4)(-20.5,-3.5)(-22.1,-3.5)(-23.3,-3.6)(-25.4,-3.3)(-27.4,-3.5)(-30.2,-3.5)(-25.4,-3.7)(-21.5,-3.3)(-16.3,-4)(-15.1,-3.5)(-14.4,-3.7)(-12.6,-3.9)(-12,-3.4)(-11.6,-3.2)(-15.4,-4)(-17.4,-4)(-18.7,-4.2)(-19.7,-4.3)(-21.2,-4.5)(-22.7,-4.4)(-23.9,-4.8)(-27.6,-4.5)(-26.7,-5)(-25.5,-4.5)(-24.7,-5.2)(-20.8,-5.1)(-20.3,-5.1)(-19.5,-5)(-18.2,-4.4)(-17,-4.6)(-16.1,-4.3)(-15.4,-4.7)(-13.4,-4.7)(-12,-4.5)(-12.3,-4.3)(-14.2,-5.1)(-15.7,-5.2)(-16.9,-5.4)(-18.4,-5.5)(-20.2,-5.9)(-21.7,-5.4)(-23.1,-5.4)(-24.9,-5.6)(-26.4,-6)(-28.1,-6)(-29.6,-5.9)(-30.8,-6.2)(-31.8,-6.1)(-32.3,-6.4)(-32.4,-6.1)(-29.9,-7)(-28.6,-7.1)(-26.5,-6.6)(-25.4,-6.7)(-24.3,-6.2)(-22.7,-6.6)(-21.5,-6.8)(-20.4,-6.2)(-18.9,-6.2)(-17.8,-6.1)(-17,-6.7)(-15.3,-6.5)(-14.2,-6.4)(-13.1,-6)(-12.2,-6)(-11.4,-5.5)
(-11.6,-6.3)(-11.6,-6.6)(-12.7,-6.6)(-13.2,-7)(-14.3,-7.5)(-14.9,-7)(-16.2,-7.3)(-17.4,-7)(-19.4,-7.2)(-18.4,-7.1)(-20.4,-7.1)(-21.7,-7.3)(-23.1,-7.1)(-24.1,-7.3)(-25.2,-7.5)(-26.9,-7.8)(-27.5,-8)(-28.6,-8)(-30.5,-8)(-29.7,-7.9)(-31.6,-8.2)(-32.1,-8.1)(-30.2,-8.6)(-28.8,-9)(-27.7,-9)(-26.1,-8.6)(-25.1,-8.8)(-23.7,-8.8)(-22.3,-8.9)(-20.7,-8.7)(-19.3,-8.7)(-17.7,-8.4)(-16.1,-8.4)(-15.4,-8.6)(-13.5,-8.7)(-11.4,-8.7)(-21.9,-9.5)(-20.4,-9.2)(-19.1,-9.7)(-17.7,-9.6)(-14.7,-9.2)(-14.4,-9.2)(-13.8,-9.2)(-16.1,-9.3)(-23.4,-10)(-25,-10)(-26,-10.3)(-26.9,-10.2)(-28.4,-9.7)(-29.5,-9.3)(-30.9,-9.6)(-32.2,-9.4)(-33.5,-9.5)(-35.6,-10.1)(-34.7,-9.6)(-33.3,-10.5)(-32.4,-10.5)(-33,-11)(-32.6,-10)(-31.7,-11.2)(-30.8,-10.8)(-29.6,-10.6)(-28.5,-11)(-27.1,-10.7)(-25.6,-11.1)(-24.7,-10.5)(-23.5,-10.5)
(-37.5,-10.1)(-36.7,-9.9)(-35.8,-11)(-35.1,-11.6)(-33.5,-11.7)(-31,-11.5)(-30.1,-11.8)(-28.7,-10.8)(-27.2,-11.3)(-26,-11.6)(-25.4,-12.2)(-24.7,-10.8)(-24.2,-11.5)(-23,-11.3)(-21.9,-10.3)(-21.4,-11.3)(-20.1,-11.1)(-20.1,-12.5)(-22.6,-12.2)(-22.7,-12.6)(-21,-13)(-24.5,-12.4)(-26,-13.4)(-25.6,-13.6)(-27.5,-12.6)(-27.5,-14)(-29.7,-14)(-28.8,-13.4)(-28.7,-13.7)(-29.1,-13)(-30.5,-11.9)(-30.8,-12.8)(-31.2,-13.1)(-31.8,-12.5)(-32.8,-12.3)(-33.4,-12.8)(-34.4,-12.3)(-35.1,-13)(-35.7,-12.7)(-36.4,-12.3)(-37.1,-12)(-36.9,-11.5)(-36.4,-12)(-36,-11.6)(-37.5,-13.3)(-37,-13.1)(-36.4,-13.2)(-35.3,-13.6)(-34.5,-13.4)(-33.5,-13.6)(-33.1,-13.6)(-32.4,-14.2)(-31.4,-13.7)(-30.6,-14.6)(-32.5,-15)(-33.1,-15)(-34.3,-14.4)(-34.1,-13.9)(-35.7,-14)(-36.3,-14.2)(-36.8,-14.4)(-37.8,-14.4)(-38.6,-13.8)(-38.7,-14.2)(-37.7,-14.6)(-37.3,-14.5)(-36.1,-14.8)(-36.3,-15)(-36.4,-15.2)(-36.6,-15.4)(-35.9,-15.1)(-34.4,-15.9)(-31.8,-15.5)(-29.5,-15.3)(-27.5,-14.9)
(-35,-11)(-34,-11.2)(-32.6,-11.5)(-31.6,-10.3)(-30.4,-9.8)(-34.3,-10.7)(-34.8,-8.5)(-35.2,-8.7)(-35.4,-9)(-31,-7.7)(-30.6,-9.3)(-26.5,-9.2)(-24.4,-8.2)(-24.1,-7.6)(-22.9,-8)(-20.7,-7.5)(-19,-5.4)(-21.4,-5.9)(-23.1,-6.1)(-16.7,-5.8)(-15.6,-5.5)(-14.3,-5.8)(-13.4,-5.6)(-13.5,-6)(-17,-4)(-18.3,-5)(-19.2,-6)(-20.2,-6.7)(-21.4,-6.2)(-22.2,-7.8)(-25.1,-8.1)(-26.9,-9.6)(-30.2,-10.2)(-31.4,-9.8)(-33.2,-9.9)
};
\ann{-25.9,-2.55}{2}
\ann{18.05,2.63}{1}
\end{axis}
\begin{axis}[panel,at={(52.65pt,19.5pt)},height=293.35pt,width=393.7pt,xmin=-32.1,xmax=32.4,ymin=-59.8,ymax=50,
 xtick={-30,-20,-10,0,10,20,30},xticklabels={−30,−20,−10,0,10,20,30},
 ytick={-40,-20,0,20,40},yticklabels={−40,−20,0,20,40},
 title={Number of clusters: 3}]
\addplot[pts=cPurp] coordinates {
(-28.9,-36.3)(-28.8,-37)(-28.7,-37.4)(-28.5,-37.6)(-28.1,-37.9)(-25.4,-39.2)(-23.8,-39.2)(-20.6,-42)(-20.2,-42.3)(-19.9,-42.3)(-20.3,-42.8)(-21.1,-44.7)(-19.5,-44.7)(-23.2,-44.8)(-23.4,-45)(-25.5,-45.4)(-24.7,-45.8)(-24.3,-46)(-24.9,-46.1)(-19.8,-45.5)(-20,-45.6)(-19.4,-46.2)(-19.5,-46.8)(-23.5,-46.3)(-23.3,-47)(-21.8,-46.7)(-21.4,-46.6)(-20.3,-47.9)(-19.6,-47.2)(-23,-47.3)(-22.6,-48)(-22.3,-48.5)(-21.7,-48.5)(-21.1,-49)(-20.8,-49.6)(-20,-49.5)(-19.5,-50.6)(-25.5,-49.6)(-24.7,-49.6)(-24.1,-49.6)(-23.4,-50.2)(-22.7,-49.8)(-22,-49.6)(-21.3,-50.6)(-20.6,-50.3)(-22,-50.6)(-23,-50.2)(-25.2,-50.2)(-26.3,-50.6)(-25.5,-51.7)(-24.3,-51.8)(-23.7,-51.6)(-23.2,-51.7)(-21,-51.2)(-20.7,-51)(-26.4,-52.2)(-25.7,-52.1)(-24.7,-51.9)(-24,-52.8)(-26,-53.4)(-25.5,-53.1)(-25,-53.3)(-24.5,-53.5)(-26.4,-54.2)(-25.8,-54.3)(-25.5,-54.4)(-25.1,-54.1)(-25.3,-54.5)(-24.9,-53.9)(-23.7,-53.9)
(-17.2,-47.4)(-17,-47.4)(-16.7,-47.4)(-15.7,-47.5)(-15.4,-47.5)(-15.2,-47.4)(-14.8,-47.3)(-14.5,-47.2)(-14.3,-47.1)
};
\addplot[pts=cTeal] coordinates {
(-8.6,29.8)(-8.2,29.5)(-7.4,29.1)(-6.7,28.8)(-6,28.4)(-4.9,27.1)(-3.8,25.4)(-2.5,25.2)(-2.4,27.7)(-1.6,26.3)(-.7,27.6)(-1.4,29.1)(-.9,29.7)(-2.3,31.5)(-1.6,32.3)(-.3,32.9)(.1,33.3)(1.1,32.3)(1.8,34.1)(.4,29.4)(1.1,30.2)(2.2,29.4)(2.7,29.1)(3.2,29.1)(3.7,34.2)(3.2,37.9)(3.4,31.9)(3.3,30.8)(4.6,29.4)(5.2,34.7)(5.4,36)(6,35.7)(6.4,36.5)(7.1,35.3)(7,34.1)(7.5,34.4)(7.5,37.9)(5.2,31.9)(7.3,32.2)(8.7,33.5)(8.8,35.8)(9,36.1)(10.6,36.4)(10.7,37.2)(12.9,37.1)(13.6,36.8)(13,35.4)(14.6,33.7)(13.4,33.6)(14.6,39.1)(13.4,40.8)(14.1,40)(17.1,42.9)(17.8,42.2)(19,42.9)(16.9,41.4)(16,40.5)(16.4,40)(15.7,39.5)(15.1,37.4)(15.9,37.5)(14.8,35.7)(15.6,35.4)(15.3,33.6)(16,33.5)(16.7,34.7)(17.5,34.3)(17.1,38.4)(17.8,38.5)(18.4,40.3)(18.6,42.4)(19.2,41.5)(18.8,38.8)(19.4,38.5)(20.1,40.1)(21,42.2)(21.4,41.8)(22.3,42.9)(22.8,43.3)(21.8,39.9)(22.5,40.5)(23.3,40.3)(23.8,41.5)(24.5,42.7)(25,43.7)(25.5,42.4)(26,44.5)(26.9,44.4)(26.8,42.1)(27.8,41.9)(28.9,41.2)(29.4,41.2)(28.3,40)(26.8,40.7)(26.2,40.8)(25.6,40.7)(26.7,39.1)(25.4,39.4)(24.6,39.4)(23.9,38.1)(23.3,39.3)(21,38.5)(20.3,38.2)(19.7,37.3)(19,37.3)(18.3,36.4)(17.7,37.5)(16.9,36.4)(21.5,37.9)(22.1,38.1)(21.3,36.1)(22.5,36.1)(23,36.1)(22.7,35)(23.5,36.1)(25.4,35.9)(26.2,34.9)(25.5,37.6)(24.6,33.8)(27.4,34.5)(27.8,34.5)(27,33)(26.4,32.6)(25.6,31.9)(26.4,30.7)(27,29.9)(22.3,33.5)(22,32.4)(20.9,34.2)(19.9,33.8)(19.7,33.3)(18.4,33.2)(17.8,33.6)(17,31.9)(17.3,31.6)(18.2,30.6)(19,31.5)(19.9,31.9)(20.9,31.5)(22.4,30.8)(22.2,31.2)(22.6,30.4)(23,29.2)(22.7,28.8)(24,29.2)(23.8,28.7)(22.9,28)(21.4,28.1)(20.6,27.4)(20,27)(20.5,29.5)(19.8,28.6)(19.3,29.3)(18.8,29.8)(18.3,28.5)(17.7,28.1)(16.8,26.5)(17.7,25)(18.8,24.7)(19.6,26.7)(19.9,26.5)(20.8,25.7)(22.5,25.9)(22.5,25.1)(17,22.8)(17.2,20.4)(18.5,20.5)(19,20.6)(21.8,20.5)(21.8,18.8)(22.2,19)(22.5,18.5)(19.8,18.8)(19.6,18)(19.5,17.2)(20.7,16.8)(20,16.2)(19.2,15.7)(18.6,15.1)(19.4,15.1)(20,14.9)(20.6,14.8)(17.4,16.6)(16.4,17.5)(15.7,17.7)(14.7,17.7)(14.9,18.8)(14.6,14)(14.5,21)(15.2,24.3)(16.1,24.3)(15.1,25.1)(14.1,26.5)(14.4,24.8)(14.7,23.4)(13.4,23)(12.1,21.5)(13.1,22.4)(13.1,20.7)(12.1,20.4)(12.1,18.4)(12.3,17.5)(12.5,19.3)(13.3,16.4)(11.4,16.6)(12,15.1)(11.1,14.4)(11.6,14.3)(10.9,13.7)(10.4,13.1)(10.3,13)(9.4,12.4)(10.2,11.3)(8.8,10.2)(8,11.1)(7.3,12.1)(6.4,12)(5.1,13.1)(5.2,14.6)(5.2,11.4)(3.7,13.1)(4,12.7)(3.7,11.3)(3.5,10.1)(3.3,9.6)(2.7,8.5)(2.3,10.5)(2.5,11.9)(2.1,12)(1.9,12.3)(2,16.5)(.8,15.1)(.3,15.7)(.1,16.3)(-.4,18.4)(-.7,17.8)(-1.3,16.3)(-1.4,15.5)(-1,14.6)(-1.1,13.8)(-.5,13.4)(-2.2,14.9)(-2.1,14.4)(-2.5,14)(-3.5,13.4)(-4.4,12.8)(-3.8,12.4)(-3.4,11.4)(-2.9,10.5)(-2.3,9.1)(-2.3,8.9)(-3,8.3)(-2.9,7.4)(-4.6,6.7)(-5.4,6.2)(-6,5.8)(-5.2,6.2)(-5.5,6.6)(-5.2,6.4)(-4.4,6.8)(-4.4,7.7)(-3.9,8.3)(-3.7,9.4)(-2.8,10.5)(-1.8,11.1)(-.7,10.7)(-.5,10.4)(-.6,9.6)(-.9,8.4)(.2,9.2)(1.1,9.1)(1.7,8.7)(1.1,10.6)(.3,12.4)(-.6,12.7)(-.4,13.4)(-2.8,12.1)(-3.8,11.3)(-3,11.9)(-2.5,13.4)(-2.8,15.8)(-3.1,16.2)(-.6,16.7)(-1.5,17.9)
(-7.1,9.7)(-6.8,12)(-7.2,12.2)(-8.7,12.9)(-9.2,11)(-10.4,11.2)(-11.5,10.3)(-11.5,9.6)(-11.4,6.5)(-11.3,6.3)(-10.7,6.2)(-10.9,5.1)(-12.3,5.9)(-12.5,4.8)(-11.9,4.4)(-13.1,5)(-12.9,3.9)(-13.6,2.9)(-13.4,3.8)(-12.6,2.8)(-12.4,2.8)(-10.8,4.4)(-9.9,5.3)(-9.4,5.3)(-9.6,8.1)(-9,12.2)(-9.1,14.1)(-10,15.6)(-9.7,14.6)(-9.3,15.7)(-8.8,15.1)(-8.2,15.6)(-7.9,18)(-8.1,17.4)(-7.7,14.7)(-6.5,15.7)(-5.3,15.6)(-5.5,16.8)(-6,18.4)(-6.6,19.8)(-6.2,20.3)(-7.1,19.3)(-3.9,22.9)(-3.4,23.8)(-2.2,24.2)(-1.7,25.9)(-1,26.3)(-.7,26.2)(-.1,24.5)(-.9,21.5)(-1.3,20.9)(-1.2,18.5)(-1.4,20)(-1,20.1)(.8,24)(1.3,23.8)(1.5,24.6)(2.2,24.3)(1.9,21.2)(2.9,20.6)(3.4,21.6)(3.2,18.8)(5.5,20.7)(6.5,19.6)(7,20.5)(9.4,19.8)(10.4,17.6)(10.5,20.2)
(4,16.3)(4.9,15.8)(3.5,16.2)(5.9,15.6)(6.8,17.7)(7.7,17.2)(9.8,18.6)(10,20.4)(11.7,20.3)(13.6,23.6)(14.4,22.9)(14.1,21.7)(15.7,21)(16.4,21.2)(16.6,19.7)(12.1,18.4)(13.4,19.3)(15.7,22)(15.1,22)(15.4,23.5)(17.1,21.4)(16.3,19.1)(11.1,21.7)(10.5,23.6)(9.9,25)(10.7,24.5)(11.5,24.8)(12,23.4)(9.9,25.3)(9.4,26.8)(8.5,25.3)(7.5,27)(6.9,27.7)(6.2,28.7)(6,29.1)(5.1,29.9)(6.3,31.4)(4.3,27.9)(4.2,25.8)(4.6,28.7)(5,25.6)(6,26.1)(7.4,24.6)(7.3,24.4)(8.4,23.2)(8.9,22.1)(8.1,19.5)(6,22.6)(6.2,21.9)(3,23.8)(3.7,23.5)(2.4,23.6)(.2,21.4)(.7,20.2)(2.2,21.7)(4.4,20.6)(3.7,22.9)(2.1,21)(1,22.2)(.4,22.3)(.1,21.2)(.7,18.7)(.2,17.4)(1.2,18.6)(1.6,18.7)(2.9,18.4)(3.6,18.2)(4.1,17.7)(5.6,17.6)(7.1,16.9)(7.9,17.4)(8.9,16.6)(9.7,16.9)(-1.5,11.3)(-2.7,13.8)(-2.7,14.8)(.8,18.5)
(-1.8,15.7)(-1.4,15.9)(-3.1,18.2)(-.5,18.1)(-1.2,14.8)(-.5,11.1)(-.2,11.5)(-.1,12.7)(.1,8.8)(-.4,16.7)(-.2,14.5)(-12.5,9.8)(-10.8,7.5)(-7.2,9.5)(-8.8,7.8)(-6.7,8.8)(-6.1,8.4)(-1.8,11.1)(-.4,11.6)(-6.5,23.8)(-4.8,22)(-3.7,22.9)(-1.9,23.5)(-.8,24.6)(.1,23.7)(2.9,22.9)(3.2,23.7)(.3,23.9)(-1,23.7)(-2.5,22.5)(-4.3,21.2)(-2.6,19.8)(-5.3,20.8)(-2.9,14.6)(-5.2,14.3)(-5.8,13.1)(-4.8,13.1)(-2.2,12.9)
(-7.7,21.5)(-7.6,20.6)(-6.7,18.7)(-4.9,21)(-3.4,20.9)(-5.3,15)(-5.1,10.8)(-5.8,11.6)(-4.4,12.9)(-1.7,12.4)(-1,9.7)(-1.2,7.8)(-1.1,10.7)(-3.3,13.8)(-4.6,14.3)(-3.5,15.9)
(-.2,20.2)(-.7,20)(1.8,20)(2.3,18.8)(2.5,17.6)(4.1,15.6)
(-.1,-.1)(-.5,-.7)(.6,-1.8)(.7,-1.9)(.3,-3.4)(1.1,-1.8)(6.6,1.2)(6,-.1)(2.3,-1.4)(2.4,-1.8)(2.5,-2.3)(3.4,-1.4)(1.4,-2.9)(5.1,-2.8)(6.1,-1.9)(6.1,-2.9)(-2,-6.1)(-.7,-7.4)(-.4,-8.7)(.1,-7.4)(1,-7.5)(6.7,-8.4)(7.8,-6.1)(7.4,-7)(6.8,-5.5)(9.8,-5.5)(10.4,-5.4)(1.5,-6.7)(1.1,-7.6)(2,-7.7)(3,-7.4)(5,-8.3)(5.4,-8.1)(6.6,-7.9)(7.8,-8.7)(8.4,-8.5)(9.3,-8.6)(9.6,-8.7)(6,-7.6)(4.9,-7.8)(.7,-10.4)(1.2,-10.1)(2.2,-10.4)(3,-9.7)(2.6,-9.8)(4,-9.4)(4.9,-9.6)(6.8,-9.5)(8.1,-9.2)(9.7,-10)(5.3,-9.9)(1.4,-10.2)(2.1,-10.9)(3.4,-11.1)(4.3,-10.6)(5.2,-10.9)(6,-11.2)(6.5,-11.5)(7.5,-11.2)(8.1,-10.9)(9.2,-10.7)(9.6,-11.3)(10,-11.2)(-.4,-11)(.9,-11.6)(2,-11.4)(3.1,-11.5)(4.2,-11.8)(5.1,-11.7)(6.2,-12.4)(7.4,-12.3)(8.1,-11.6)(8.9,-12.1)(1.9,-12.9)(3,-12.5)(4.4,-13.2)(5.5,-13.1)(7,-13.4)(8,-12.8)(10.4,-13.3)(10.7,-13.2)(9,-13.7)(8.3,-13.9)(3.2,-13.7)(4.3,-14.7)(5.4,-14.2)(6.3,-15)(8.1,-15.1)(5.5,-16)(7.4,-16.6)(3.4,-13.3)(4.7,-11.7)(5.8,-10.8)
};
\addplot[pts=cLime] coordinates {
(-14.1,-7.5)(-13.5,-11.2)(-9.3,-10)(-11.3,-11.6)(-11.1,-12.2)(-10.8,-13.1)(-8.4,-11.6)(-6.9,-10.4)(-6.5,-10.4)(-6.1,-11.3)(-4,-11.3)(-4.1,-12.5)(-3.5,-12.5)(-3,-13.1)(-1.7,-11.9)(-.7,-12.4)(-.1,-12.9)(1,-13.1)(2.2,-14.2)(2.2,-15.6)(-16.6,-14.1)(-14,-13.7)(-13.8,-14.3)(-9,-14.2)(-7.8,-13.8)(-7.2,-12.8)(-5.7,-13.1)(-5.5,-13.9)(-5.4,-14.5)(-3.8,-14.2)(-2.3,-14.8)(-1.2,-14.5)(-.1,-14.2)(.7,-15)(1.5,-16.1)(2.9,-17.2)(3.6,-15.9)(4.2,-17.3)(4.6,-17.2)(-20,-16.1)(-16.7,-16.3)(-14.0,-16)(-11.5,-15.8)(-10.2,-15.8)(-8.1,-15.8)(-6.8,-15)(-5.7,-15.6)(-3.6,-15.1)(-2.7,-16.6)(-1.6,-15.4)(-.4,-15.9)(1.7,-15.7)(.6,-16.1)(1.2,-15.4)(1.9,-17.9)(-18.7,-17)(-18.4,-17.6)(-17.5,-18.1)(-16.6,-18.5)(-16.1,-18.6)(-14.4,-18.1)(-13.1,-17.2)(-11.3,-16.7)(-10.3,-17)(-8.6,-18.5)(-7,-16.7)(-6.4,-18)(-5.6,-16.4)(-4.9,-17.7)(-3.5,-18)(-2.6,-17.4)(-1.7,-18)(-.8,-18.6)(-.1,-17.4)(2.6,-19.7)(3.9,-19)(5.9,-18.7)(4.6,-20.8)(-18.4,-19.2)(-12.7,-18.9)(-11.6,-18.3)(-10.6,-19.2)(-9.3,-19.3)(-7.7,-19.8)(-6.9,-19.2)(-6.3,-19.2)(-4.6,-18.9)(-4,-18.9)(-4.3,-19.8)(-1.9,-21.7)(-.9,-20.5)(-.6,-19.8)(.6,-19.3)(1.6,-20.9)(-20.6,-20.3)(-20.4,-21)(-15.7,-20.9)(-13.9,-20.1)(-12.4,-19.9)(-11.8,-20.7)(-10.1,-20.5)(-9.3,-21.4)(-8,-21.1)(-7,-21.7)(-4.9,-20.5)(-3.8,-20.8)(-2.5,-21.4)(-.4,-21.4)(.5,-20.5)(1,-22)(3.6,-22.5)(-18.2,-21.2)(-17.4,-21.1)(-18.9,-22.2)(-13.7,-21.4)(-11.7,-22)(-10.6,-21.4)(-8.9,-22.1)(-6.6,-21.4)(-5.7,-21.1)(-3.2,-21.8)(-22.1,-23)(-20.9,-23.6)(-20.8,-24.2)(-20.1,-24)(-19.6,-23.7)(-17.4,-23.6)(-15.6,-23)(-15.2,-22.9)(-14.5,-22.9)(-13,-22.7)(-12.7,-23.6)(-11.1,-23)(-10.1,-22.8)(-7.6,-22.6)(-6.6,-24.2)(-5.2,-23.6)(-3.8,-24.5)(-.8,-23)(-2.3,-24.9)(.2,-24.3)(-19.2,-25.1)(-21.6,-25.1)(-21.6,-25.8)(-17,-24.8)(-14.9,-25)(-14.7,-25.1)(-13.3,-25.1)(-12.1,-24.8)(-10.3,-24.5)(-9.1,-23.6)(-7.9,-24.2)(-5.3,-25.4)(-3.4,-24.2)(-.9,-24.7)(-16.6,-26.3)(-17.2,-26.9)(-19.4,-26.7)(-19.2,-27.3)(-12.8,-26.3)(-11.6,-26)(-8.3,-26.4)(-6.5,-26.1)(-4.9,-26.6)(-3.2,-26.3)(-6.7,-25.8)(-.6,-25.7)(-16.4,-27.8)(-17,-28.4)(-19.4,-28.1)(-19.1,-29.4)(-14.6,-27.9)(-13.3,-27.6)(-11.3,-28.8)(-11.2,-28.3)(-10.2,-28.4)(-9.4,-28.1)(-7.9,-28.1)(-6.7,-27.5)(-4.3,-26.9)(-3.2,-26.5)(-2.1,-26.6)
(-22.6,-28.6)(-20.9,-29.2)(-20.2,-28.6)(-15.8,-30.1)(-15.7,-29.1)(-14.1,-29.6)(-13.4,-29.9)(-11.8,-29)(-10.9,-30.2)(-9.9,-30.2)(-8.4,-29.8)(-7.1,-30.8)(-4.9,-30.5)(-4.5,-29.6)(-3.5,-28.3)(-2.3,-28.6)(-1.5,-28.8)(-.5,-29.5)
(-2,-29.6)(-21.3,-31.3)(-18.7,-30.9)(-16.1,-30.6)(-15.1,-31.5)(-13.4,-31.5)(-11.9,-30.7)(-11.3,-30.1)(-10,-30.2)(-8.2,-31.9)(-6.4,-31.7)(-5.6,-31.8)(-1.4,-31.9)(-.9,-32.1)(-23.6,-31.2)(-23.9,-32.5)(-19.6,-32.3)(-19,-31.8)(-17.8,-33.7)(-16.5,-31.7)(-14.7,-32.4)(-13.8,-31.9)(-12.2,-33.1)(-10.8,-32.5)(-7.9,-33.6)(-7.7,-32.8)(-4.3,-31.9)(-3.5,-31.7)
(-22.3,-33.9)(-23.4,-33.9)(-22.5,-34.3)(-19.4,-33.2)(-18.7,-33.6)(-16.3,-33.7)(-15.1,-34)(-13.7,-33.3)(-12.3,-33.9)(-11.3,-35.5)(-10.2,-33.4)(-8.2,-34.2)(-5.5,-34.2)(-5.4,-32.5)(-5.5,-34.2)(-21.3,-35.5)(-20.4,-36)(-18.9,-35.2)(-18.5,-34.9)(-17.1,-34.9)(-15.1,-35)(-13.4,-34.2)(-12.8,-35.4)(-11.5,-34.2)(-9,-34.9)(-8.1,-35.5)(-21.9,-37)(-20.9,-36.2)(-19.4,-36.6)(-18.9,-35.7)(-17.4,-36.1)(-16.6,-35.9)(-14.9,-36.5)(-13.9,-36.2)(-12.9,-35.1)(-10.6,-35.8)(-9.4,-37.1)(-8,-36.3)(-8.3,-37.3)(-9.9,-38.4)(-9,-37.1)
(-22.4,-37.8)(-20.1,-36.9)(-19.2,-36.3)(-18.8,-37)(-17.4,-37.8)(-16.1,-36.3)(-15.5,-37.4)(-14.7,-38.1)(-14.1,-37.1)(-13.3,-37.3)(-12.2,-37.4)(-11.5,-38.4)(-10.5,-38.4)(-8.9,-36.9)(-9.2,-37.5)(-20.7,-38.2)(-20.4,-38.5)(-19.6,-39)(-19.1,-38.5)(-18,-39)(-17.4,-39.4)(-16.5,-38.6)(-15.8,-39.1)(-15,-37.6)(-13.8,-39.3)(-12.7,-37.5)(-11.9,-39.7)(-16.5,-39.6)(-16,-39.2)(-15.2,-38.8)(-14.3,-39.6)(-16.4,-40.3)(-15.8,-41.1)(-14.9,-41.1)(-14.2,-40.6)(-17.4,-41)(-16.8,-41.2)(-13.5,-40.2)(-13.6,-39.5)
(-9,-41.4)(-8.8,-42.4)(-8.1,-41.0)(-8.2,-41.7)(-7.7,-42)(-7.4,-42.1)(-9.2,-41.7)(-8.7,-41.5)
};
\ann{-24.06,-44.8}{1}
\ann{1.1,30.3}{2}
\ann{-16.8,-17.2}{3}
\end{axis}
\end{tikzpicture}
\end{document}
